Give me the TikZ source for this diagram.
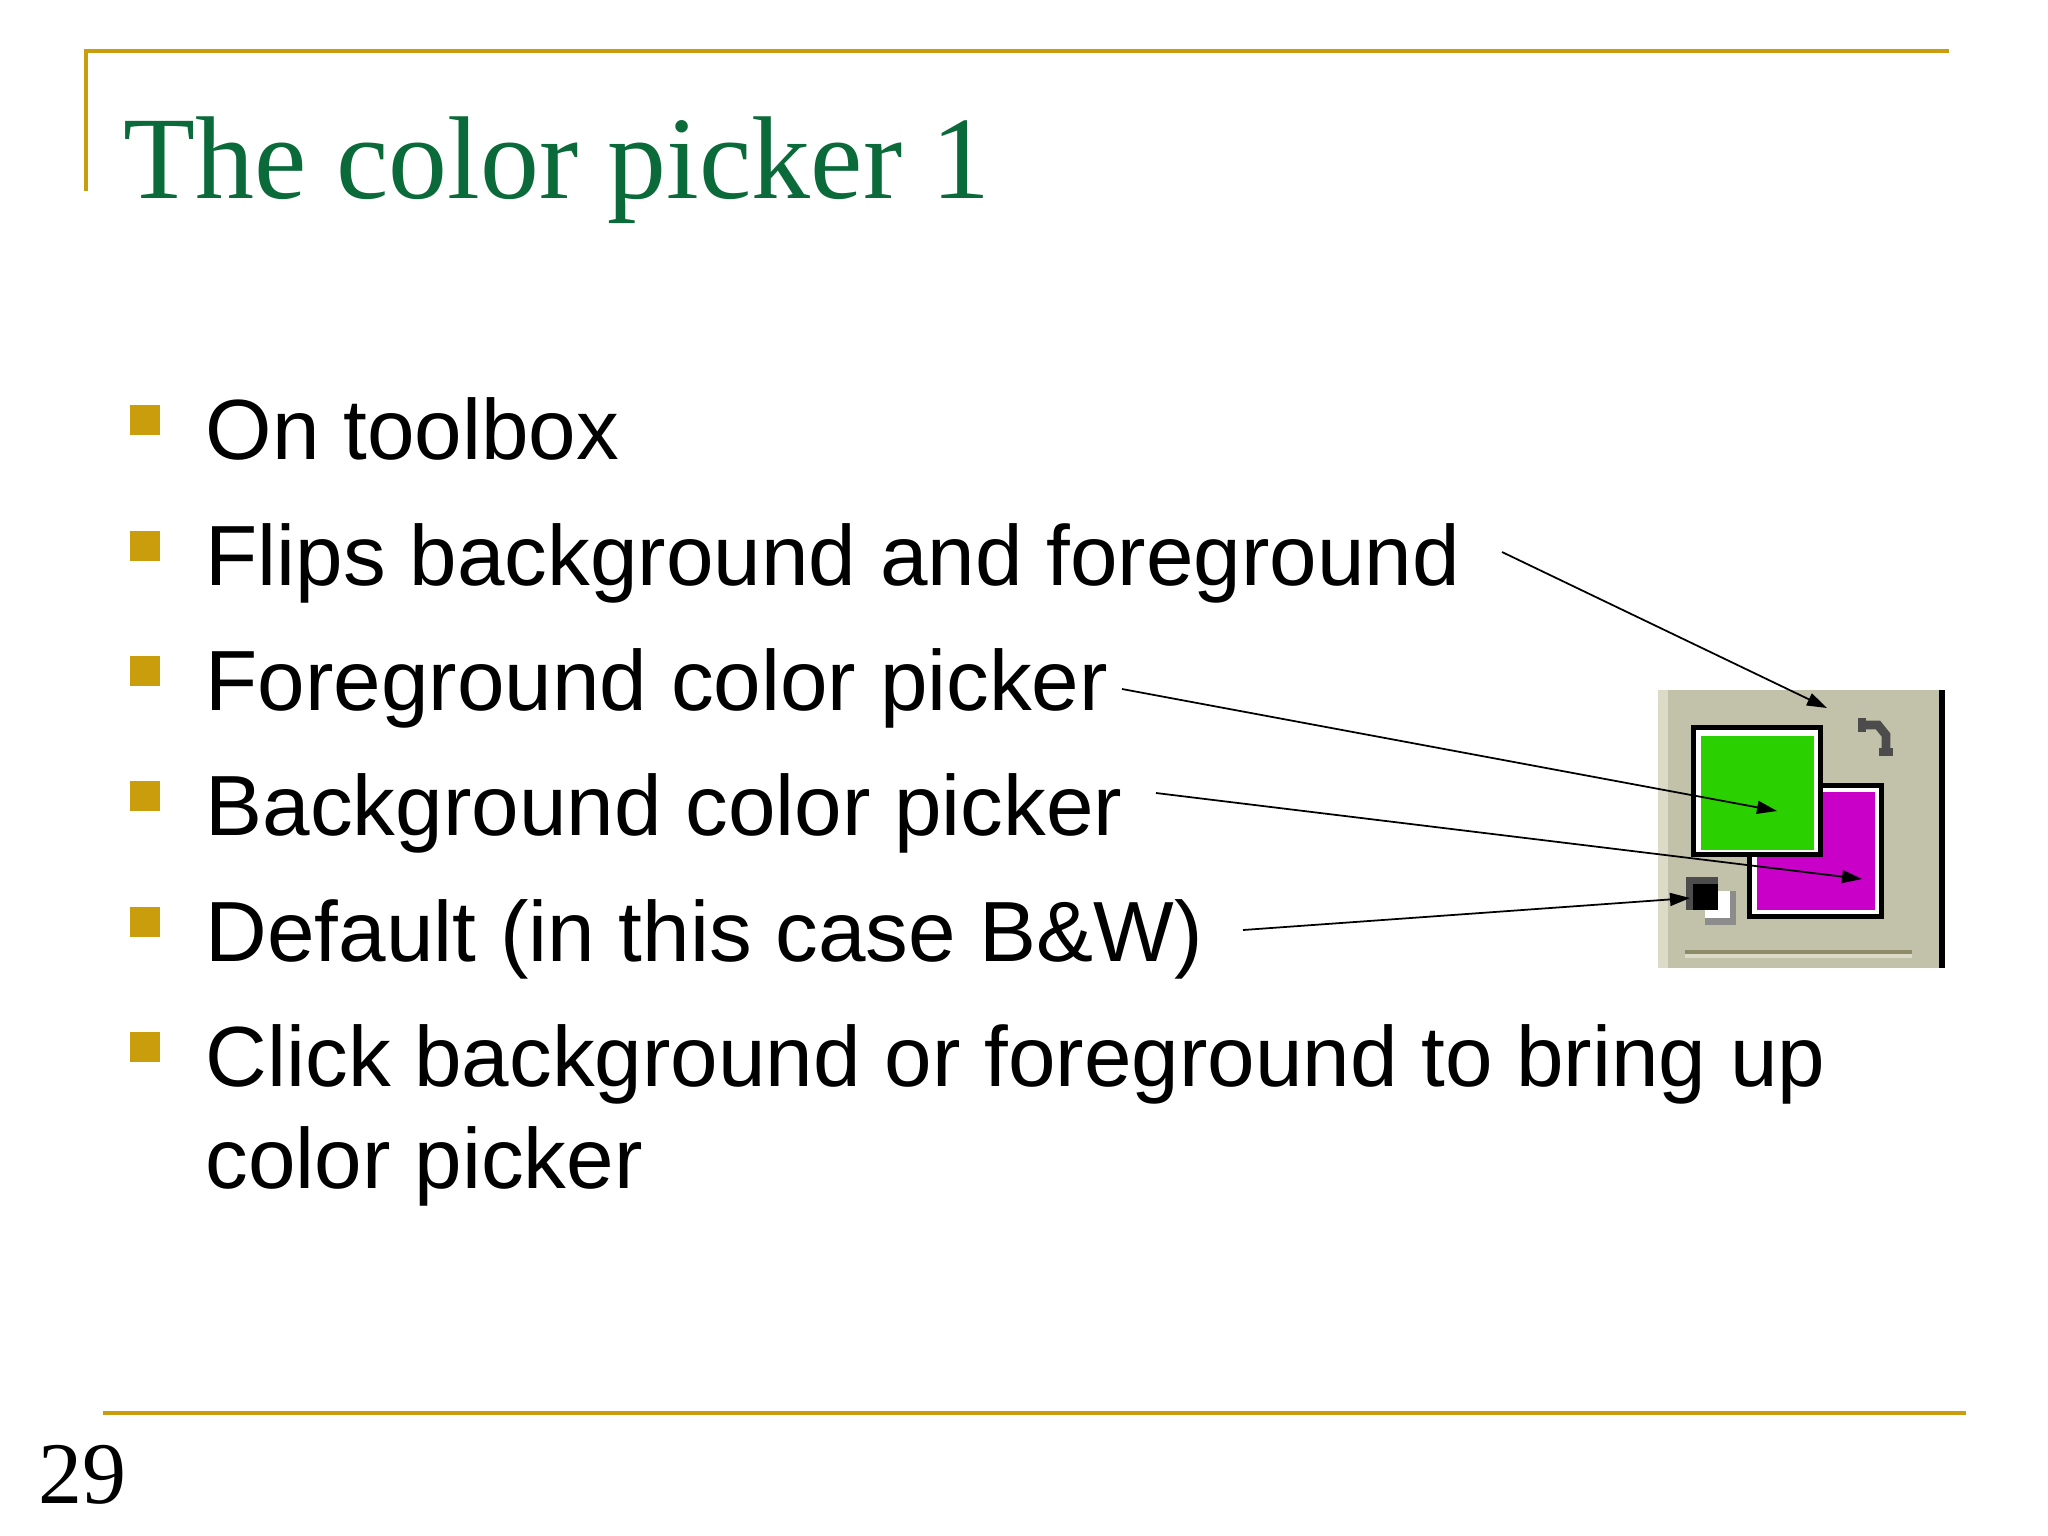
\documentclass[tikz,border=0pt]{standalone}
\usepackage{fontspec}
\setmainfont{Liberation Serif}
\newfontfamily\bodyfont{Liberation Sans}
\usetikzlibrary{arrows.meta}
\definecolor{gold}{HTML}{C99D0B}
\definecolor{titlegreen}{HTML}{0B6A3A}
\definecolor{panel}{HTML}{C2C1AA}
\definecolor{panelhi}{HTML}{DCDBC8}
\definecolor{paneldk}{HTML}{8E8C66}
\definecolor{fgreen}{HTML}{2BD000}
\definecolor{bmag}{HTML}{C800C8}
\tikzset{
  body/.style={anchor=base west, inner sep=0pt, font=\bodyfont\fontsize{24.3}{30}\selectfont},
  bul/.style={fill=gold, minimum size=0.3cm, inner sep=0pt},
  ptr/.style={-{Triangle[length=0.2cm,width=0.13cm]}, line width=0.5pt},
}
\begin{document}
\begin{tikzpicture}[x=0.01cm,y=-0.01cm]
\useasboundingbox (0,0) rectangle (2048,1536);
\fill[white] (0,0) rectangle (2048,1536);
% frame lines
\draw[gold, line width=1.2pt] (86,191) -- (86,51) -- (1949,51);
\draw[gold, line width=1.2pt] (103,1413) -- (1966,1413);
% title
\node[anchor=base west, inner sep=0pt, text=titlegreen, font=\fontsize{33.5}{40}\selectfont] (title) at (123,198) {The color picker 1};
\node[anchor=base west, inner sep=0pt, font=\fontsize{25}{30}\selectfont] (pnum) at (38,1503) {29};
% bullets
\foreach \y/\n in {420/b1,546/b2,671/b3,796/b4,922/b5,1047/b6}
  \node[bul] (\n) at (145,\y) {};
\node[body] (t1) at (205,459) {On toolbox};
\node[body] (t2) at (205,585) {Flips background and foreground};
\node[body] (t3) at (205,710) {Foreground color picker};
\node[body] (t4) at (205,835) {Background color picker};
\node[body] (t5) at (205,961) {Default (in this case B\&W)};
\node[body] (t6) at (205,1086) {Click background or foreground to bring up};
\node[body] (t7) at (205,1188) {color picker};
% panel
\fill[panel] (1658,690) rectangle (1945,968);
\fill[panelhi] (1658,690) rectangle (1668,968);
\draw[black, line width=1.5pt] (1942,690) -- (1942,968);
\fill[paneldk] (1685,950) rectangle (1912,954);
\fill[panelhi] (1685,954) rectangle (1912,958);
% flip icon
\draw[black!70, line width=2.5pt] (1862,725) -- (1878,725) -- (1886,735) -- (1886,752);
\draw[black!70, line width=2.5pt] (1862,718) -- (1862,732);
\draw[black!70, line width=2.5pt] (1879,752) -- (1893,752);
% background swatch
\fill[black] (1747,783) rectangle (1884,919);
\fill[white] (1752,788) rectangle (1879,914);
\fill[bmag] (1757,792) rectangle (1875,910);
% foreground swatch
\fill[black] (1691,725) rectangle (1823,857);
\fill[white] (1696,730) rectangle (1818,852);
\node[fill=fgreen, minimum width=1.13cm, minimum height=1.14cm, inner sep=0pt, anchor=north west] (fg) at (1700,735) {};
% default icon
\fill[black!45] (1705,891) rectangle (1736,925);
\fill[white] (1705,891) rectangle (1730,918);
\fill[black!70] (1686,877) rectangle (1718,910);
\fill[black] (1693,884) rectangle (1718,910);
\coordinate (defc) at (1690,898);
\coordinate (flipc) at (1827,708);
\coordinate (fgc) at (1777,811);
\coordinate (bgc) at (1862,879);
% arrows
\coordinate (s2) at (1502,552);
\coordinate (s3) at (1122,689);
\coordinate (s4) at (1156,793);
\coordinate (s5) at (1243,930);
\draw[ptr] (s2) -- (flipc);
\draw[ptr] (s3) -- (fgc);
\draw[ptr] (s4) -- (bgc);
\draw[ptr] (s5) -- (defc);
\end{tikzpicture}
\end{document}
